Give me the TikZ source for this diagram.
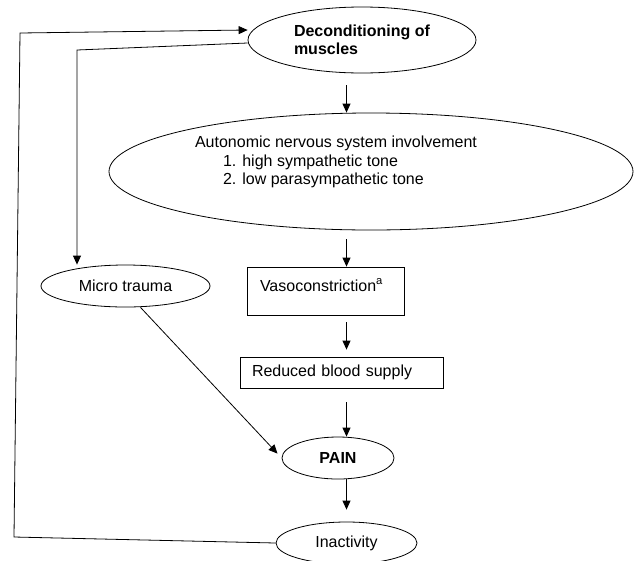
\documentclass[tikz,border=0pt]{standalone}
\usepackage{fontspec}
\setmainfont{Liberation Sans}
\usetikzlibrary{shapes.geometric, arrows.meta}

\begin{document}
\begin{tikzpicture}[x=1pt, y=-1pt,
		font=\fontsize{16}{18.5}\selectfont,
		oval/.style={draw, ellipse, inner sep=0pt, line width=0.8pt},
		box/.style={draw, rectangle, inner ysep=0pt, line width=0.8pt, align=left},
		arr/.style={-{Triangle[length=9pt, width=8pt]}, line width=0.8pt}]
		\useasboundingbox (0,0) rectangle (636,560);
		
		\node[oval, minimum width=228pt, minimum height=66pt, align=left, font={\fontsize{16}{18}\selectfont\bfseries}] (decond) at (362,40) {Deconditioning of\\muscles};
		\node[oval, minimum width=524pt, minimum height=117pt] (ans) at (371,171.5) {};
		\node[align=left, inner sep=0pt] (anstext) at (336,162) {Autonomic nervous system involvement\\\hspace*{28pt}1. high sympathetic tone\\\hspace*{28pt}2. low parasympathetic tone};
		\node[oval, minimum width=169pt, minimum height=42pt] (micro) at (125.5,286) {Micro trauma};
		\node[box, minimum width=157pt, minimum height=48pt, inner xsep=13pt, text width=131pt, text height=12pt, text depth=12pt] (vaso) at (325.5,291) {Vasoconstriction\textsuperscript{a}};
		\node[box, minimum width=203pt, minimum height=31pt, inner xsep=12pt, text width=179pt] (reduced) at (341.5,372.5) {Reduced blood supply};
		\node[oval, minimum width=112pt, minimum height=42pt, font={\fontsize{16}{18}\selectfont\bfseries}] (pain) at (338,458) {PAIN};
		\node[oval, minimum width=141pt, minimum height=42pt] (inact) at (346.5,543) {Inactivity};
		
		\draw[arr, shorten <=12pt] (decond.south -| inact.north) -- (ans.north -| inact.north);
		\draw[arr, shorten <=9pt] (ans.south -| inact.north) -- (vaso.north -| inact.north);
		\draw[arr, shorten <=7pt, shorten >=7pt] (vaso.south -| inact.north) -- (reduced.north -| inact.north);
		\draw[arr, shorten <=14pt] (reduced.south -| inact.north) -- (pain.north -| inact.north);
		\draw[arr, shorten >=12pt] (pain.south -| inact.north) -- (inact.north);
		\draw[arr, shorten >=6pt] ([xshift=15pt]micro.south) -- (pain.west);
		
		\coordinate (outerlow) at (14,537);
		\coordinate (outerhigh) at (20,33);
		\coordinate (innerbend) at (77,50);
		\draw[arr] (inact.west) -- (outerlow) -- (outerhigh) -- ([yshift=10pt]decond.west);
		\draw[arr] ([yshift=-3pt]decond.west) -- (innerbend) -- (innerbend |- micro.north);
	\end{tikzpicture}
\end{document}
